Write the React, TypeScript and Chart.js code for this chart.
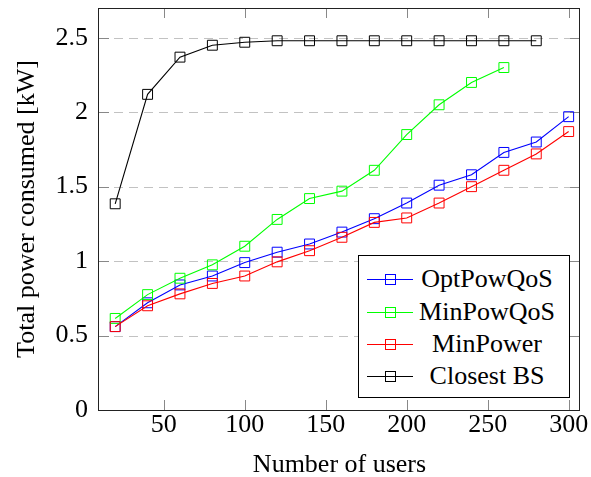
import React, { useEffect, useRef } from "react";
import { Chart, registerables } from "chart.js";

Chart.register(...registerables);

const users = [20, 40, 60, 80, 100, 120, 140, 160, 180, 200, 220, 240, 260, 280, 300];
const optPowQoS = [0.56, 0.72, 0.84, 0.90, 0.99, 1.06, 1.115, 1.195, 1.285, 1.39, 1.51, 1.58, 1.73, 1.80, 1.97];
const minPowQoS = [0.615, 0.775, 0.885, 0.975, 1.10, 1.28, 1.42, 1.47, 1.61, 1.85, 2.05, 2.20, 2.30];
const minPower = [0.56, 0.70, 0.78, 0.85, 0.90, 0.995, 1.07, 1.16, 1.26, 1.29, 1.39, 1.50, 1.61, 1.72, 1.87];
const closestBS = [1.385, 2.12, 2.37, 2.45, 2.47, 2.48, 2.48, 2.48, 2.48, 2.48, 2.48, 2.48, 2.48, 2.48];

const xTicks = [50, 100, 150, 200, 250, 300];
const yTicks = [0, 0.5, 1, 1.5, 2, 2.5];

const seriesNames = ["OptPowQoS", "MinPowQoS", "MinPower", "Closest BS"];
const seriesColors = ["#0000ff", "#00ff00", "#ff0000", "#000000"];
const seriesValues = [optPowQoS, minPowQoS, minPower, closestBS];

const FONT = "'Liberation Serif', 'Times New Roman', serif";

const framePlugin = {
  id: "frame",
  beforeDatasetsDraw(chart: any) {
    const { ctx, chartArea, scales } = chart;
    const { left, right, top, bottom } = chartArea;
    const xs = scales.x;
    const ys = scales.y;
    ctx.save();
    ctx.lineWidth = 1;
    ctx.strokeStyle = "#c2c2c2";
    ctx.setLineDash([9, 6]);
    for (const t of yTicks) {
      if (t === 0) continue;
      const py = Math.round(ys.getPixelForValue(t)) + 0.5;
      ctx.beginPath();
      ctx.moveTo(left, py);
      ctx.lineTo(right, py);
      ctx.stroke();
    }
    ctx.setLineDash([]);
    ctx.strokeStyle = "#888";
    for (const t of xTicks) {
      const px = Math.round(xs.getPixelForValue(t)) + 0.5;
      ctx.beginPath();
      ctx.moveTo(px, bottom);
      ctx.lineTo(px, bottom - 10);
      ctx.moveTo(px, top);
      ctx.lineTo(px, top + 10);
      ctx.stroke();
    }
    for (const t of yTicks) {
      const py = Math.round(ys.getPixelForValue(t)) + 0.5;
      ctx.beginPath();
      ctx.moveTo(left, py);
      ctx.lineTo(left + 10, py);
      ctx.moveTo(right, py);
      ctx.lineTo(right - 10, py);
      ctx.stroke();
    }
    ctx.restore();
  },
  afterDatasetsDraw(chart: any) {
    const { ctx, chartArea } = chart;
    const { left, right, top, bottom } = chartArea;
    ctx.save();
    ctx.strokeStyle = "#222";
    ctx.lineWidth = 1;
    ctx.strokeRect(Math.round(left) - 0.5, Math.round(top) + 0.5, Math.round(right - left), Math.round(bottom - top));
    ctx.restore();
  },
};

export default function App() {
  const ref = useRef<HTMLCanvasElement | null>(null);

  useEffect(() => {
    if (!ref.current) return;
    const datasets = seriesNames.map((name, i) => ({
      label: name,
      data: seriesValues[i].map((v, j) => ({ x: users[j], y: v })),
      borderColor: seriesColors[i],
      backgroundColor: "rgba(0,0,0,0)",
      pointBackgroundColor: "rgba(0,0,0,0)",
      pointBorderColor: seriesColors[i],
      pointStyle: "rect" as const,
      pointRadius: 7,
      pointBorderWidth: 1,
      borderWidth: 1.1,
      tension: 0,
      order: [3, 2, 1, 0][i],
    }));
    const chart = new Chart(ref.current, {
      type: "line",
      data: { datasets },
      options: {
        animation: false,
        responsive: false,
        devicePixelRatio: 1,
        layout: { padding: { left: 0, right: 11, top: 7, bottom: 0 } },
        plugins: { legend: { display: false }, tooltip: { enabled: false } },
        scales: {
          x: {
            type: "linear",
            min: 10,
            max: 307,
            afterBuildTicks: (s: any) => {
              s.ticks = xTicks.map((v) => ({ value: v }));
            },
            afterFit: (s: any) => {
              s.height = 67;
              s.paddingLeft = 0;
              s.paddingRight = 0;
            },
            grid: { display: false, drawTicks: false },
            border: { display: false },
            ticks: {
              color: "#000",
              padding: 0,
              maxRotation: 0,
              font: { family: FONT, size: 26 },
              callback: (v: any) => String(v),
            },
            title: {
              display: true,
              text: "Number of users",
              color: "#000",
              padding: { top: 0, bottom: -1 },
              font: { family: FONT, size: 26, lineHeight: 1 },
            },
          },
          y: {
            type: "linear",
            min: 0,
            max: 2.7,
            afterBuildTicks: (s: any) => {
              s.ticks = yTicks.map((v) => ({ value: v }));
            },
            afterFit: (s: any) => {
              s.width = 99;
              s.paddingTop = 0;
              s.paddingBottom = 0;
            },
            grid: { display: false, drawTicks: false },
            border: { display: false },
            ticks: {
              color: "#000",
              padding: 11,
              font: { family: FONT, size: 26 },
              callback: (v: any) => String(v),
            },
            title: {
              display: true,
              text: "Total power consumed [kW]",
              color: "#000",
              padding: { top: 14, bottom: 0 },
              font: { family: FONT, size: 26, lineHeight: 1 },
            },
          },
        },
      },
      plugins: [framePlugin],
    });
    return () => chart.destroy();
  }, []);

  const rowTops = [23, 55.5, 88, 120];

  return (
    <div style={{ position: "absolute", left: 0, top: 0, width: 591, height: 477 }}>
      <canvas ref={ref} width={591} height={477} style={{ display: "block", width: 591, height: 477 }} />
      <div
        style={{
          position: "absolute",
          left: 358,
          top: 255,
          width: 210,
          height: 141,
          border: "1px solid #000",
          background: "#fff",
          fontFamily: FONT,
          fontSize: 26,
        }}
      >
        {seriesNames.map((name, i) => (
          <div key={name}>
            <div
              style={{
                position: "absolute",
                left: 8,
                top: rowTops[i],
                width: 46,
                height: 1,
                background: seriesColors[i],
              }}
            />
            <div
              style={{
                position: "absolute",
                left: 26,
                top: rowTops[i] - 5,
                width: 9,
                height: 9,
                border: `1px solid ${seriesColors[i]}`,
              }}
            />
            <div
              style={{
                position: "absolute",
                left: 58,
                width: 140,
                top: rowTops[i] - 16,
                height: 32,
                lineHeight: "32px",
                textAlign: "center",
                color: "#000",
                whiteSpace: "nowrap",
              }}
            >
              {name}
            </div>
          </div>
        ))}
      </div>
    </div>
  );
}
